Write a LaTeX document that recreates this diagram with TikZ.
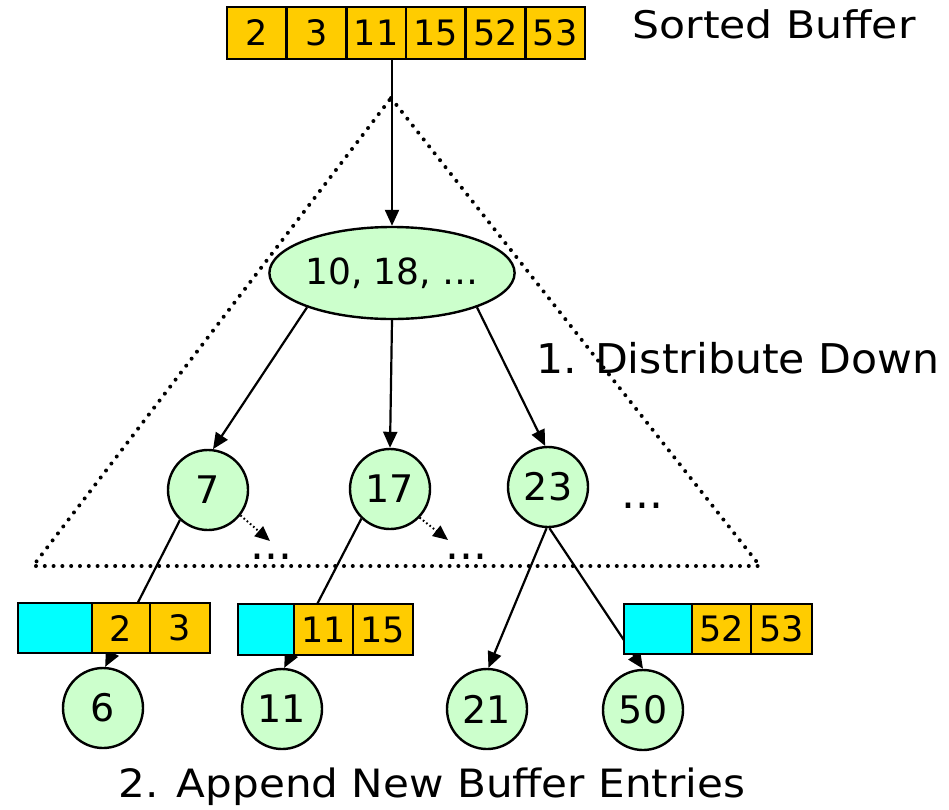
\documentclass[tikz,border=0pt]{standalone}
\usepackage{fontspec}
\usepackage{graphicx}
\setmainfont{DejaVu Sans}
\usetikzlibrary{arrows.meta,shapes.geometric}

\definecolor{bufgold}{HTML}{FFCC00}
\definecolor{bufcyan}{HTML}{00FFFF}
\definecolor{nodegreen}{HTML}{CCFFCC}

\newcommand{\fs}[1]{\fontsize{#1}{#1}\selectfont}

\tikzset{
  cellbox/.style={draw=black, line width=2.4pt, fill=bufgold, inner sep=0pt,
    minimum height=#1, font=\fs{35}},
  emptycell/.style={draw=black, line width=2.4pt, fill=bufcyan, inner sep=0pt,
    minimum height=#1},
  keynode/.style={circle, draw=black, line width=2.4pt, fill=nodegreen,
    minimum size=80pt, inner sep=0pt, font=\fs{38}},
  rootnode/.style={ellipse, draw=black, line width=2.4pt, fill=nodegreen,
    minimum width=244pt, minimum height=92pt, inner sep=0pt, font=\fs{36}},
  edge/.style={line width=2.2pt, -{Triangle[length=16pt,width=14pt]}},
  hint/.style={line width=2pt, dash pattern=on 1.6pt off 2.6pt,
    -{Triangle[length=15pt,width=13pt]}},
  subtree/.style={line width=4pt, line cap=round, dash pattern=on 0pt off 8.8pt},
  caption/.style={anchor=base, inner sep=0pt},
  more/.style={anchor=base, inner sep=0pt, font=\fs{44}}
}

\begin{document}
\begin{tikzpicture}[x=1pt,y=-1pt]
\useasboundingbox (0,0) rectangle (949,809);

% dotted outline of the subtree below the root
\coordinate (apex) at (391,98);
\coordinate (bl) at (33,566);
\coordinate (br) at (760,566);
\draw[subtree] (apex) -- (br) -- (bl) -- cycle;

% sorted buffer on top
\node[cellbox=52pt, minimum width=59.7pt] (t1) at (256.8,33) {2};
\node[cellbox=52pt, minimum width=59.7pt] (t2) at (316.5,33) {3};
\node[cellbox=52pt, minimum width=59.7pt] (t3) at (376.2,33) {11};
\node[cellbox=52pt, minimum width=59.7pt] (t4) at (435.8,33) {15};
\node[cellbox=52pt, minimum width=59.7pt] (t5) at (495.5,33) {52};
\node[cellbox=52pt, minimum width=59.7pt] (t6) at (555.2,33) {53};
\node[caption, font=\fs{38}] (sbl) at (774,38) {\scalebox{1.12}[1]{Sorted Buffer}};

% root and children
\node[rootnode] (root) at (392,273) {10, 18, \dots};
\node[keynode] (c7) at (208,490) {7};
\node[keynode] (c17) at (390,489) {17};
\node[keynode] (c23) at (548,487) {23};
\node[more] (m3) at (642,508) {...};

\node[caption, font=\fs{41}] (dist) at (738,373) {\scalebox{1.04}[1]{1. Distribute Down}};

% leaves
\node[keynode] (c6) at (103,708) {6};
\node[keynode] (c11) at (282,709) {11};
\node[keynode] (c21) at (487,709) {21};
\node[keynode] (c50) at (643,710) {50};

% distribute the buffer down
\draw[edge] (t3.south -| root.north) -- (root.north);
\draw[edge] (root.202) -- (c7.83);
\draw[edge] (root.south) -- (c17.north);
\draw[edge] (root.338) -- (c23.94);

% further children elided
\node[more] (m1) at (271,559) {...};
\node[more] (m2) at (466,559) {...};
\coordinate (e1) at (270,541);
\coordinate (e2) at (448,540);
\draw[hint] (c7.322) -- (e1);
\draw[hint] (c17.316) -- (e2);

% child links down to the leaves
\draw[edge] (c7.227) -- (c6.87);
\draw[edge] (c17.226) -- (c11.87);
\draw[edge] (c23.268) -- (c21.88);
\draw[edge] (c23.272) -- (c50.north);

% leaf buffers with appended entries
\node[emptycell=50pt, minimum width=74pt] (a0) at (55,628) {};
\node[cellbox=50pt, minimum width=58pt] (a1) at (121,628) {2};
\node[cellbox=50pt, minimum width=60pt] (a2) at (180,628) {3};

\node[emptycell=51pt, minimum width=56pt] (b0) at (266,629.5) {};
\node[cellbox=51pt, minimum width=59pt] (b1) at (323.5,629.5) {11};
\node[cellbox=51pt, minimum width=60pt] (b2) at (383,629.5) {15};

\node[emptycell=50pt, minimum width=68pt] (d0) at (658,629) {};
\node[cellbox=50pt, minimum width=59pt] (d1) at (721.5,629) {52};
\node[cellbox=50pt, minimum width=61pt] (d2) at (781.5,629) {53};

\node[caption, font=\fs{39}] (app) at (432,797) {\scalebox{1.08}[1]{2. Append New Buffer Entries}};
\end{tikzpicture}
\end{document}
